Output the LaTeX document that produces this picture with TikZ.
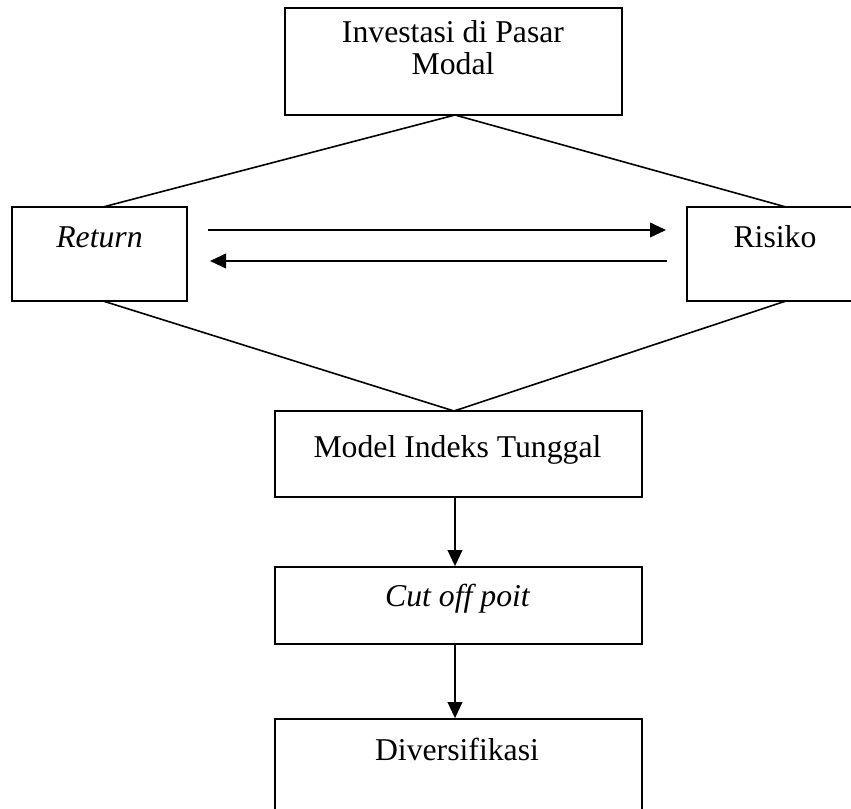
\documentclass[tikz,border=0pt]{standalone}
\usepackage{fontspec}
\setmainfont{Liberation Serif}
\usetikzlibrary{arrows.meta}
\begin{document}
\begin{tikzpicture}[x=0.75pt,y=-0.75pt,
  box/.style={draw=black, line width=1.3pt, inner sep=0pt, fill=none},
  txt/.style={inner sep=0pt, anchor=base, font=\fontsize{23.8}{24}\selectfont},
  ln/.style={line width=1.2pt},
  arr/.style={line width=1.3pt, -{Triangle[length=12pt,width=11pt]}}]
\clip (0,0) rectangle (851,809);
\fill[white] (0,0) rectangle (851,809);
% boxes
\node[box, minimum width=252.75pt, minimum height=80.25pt] (top) at (453.5,61.5) {};
\node[box, minimum width=131.25pt, minimum height=70.5pt] (ret) at (99.5,254) {};
\node[box, minimum width=137.25pt, minimum height=70.5pt] (ris) at (778.5,254) {};
\node[box, minimum width=275.25pt, minimum height=64.5pt] (mod) at (458.5,454) {};
\node[box, minimum width=275.25pt, minimum height=57.75pt] (cut) at (458.5,605.5) {};
\node[box, minimum width=275.25pt, minimum height=90pt] (div) at (458.5,779) {};
% texts
\node[txt] (t1) at (453,43) {Investasi di Pasar};
\node[txt] (t2) at (453,75) {Modal};
\node[txt] (t3) at (99.5,248) {\itshape Return};
\node[txt] (t4) at (775,248) {Risiko};
\node[txt] (t5) at (457.5,458) {Model Indeks Tunggal};
\node[txt] (t6) at (457.5,607) {\itshape Cut off poit};
\node[txt] (t7) at (457,760) {Diversifikasi};
% connector end points
\coordinate (ta) at (455,115);
\coordinate (rt) at (103,207);
\coordinate (rb) at (103,301);
\coordinate (st) at (786,207);
\coordinate (sb) at (786,301);
\coordinate (mt) at (454,411);
\coordinate (a1s) at (208,230);
\coordinate (a1e) at (666,230);
\coordinate (a2s) at (667,261);
\coordinate (a2e) at (210,261);
\draw[ln] (rt) -- (ta) -- (st);
\draw[ln] (rb) -- (mt) -- (sb);
\draw[arr] (a1s) -- (a1e);
\draw[arr] (a2s) -- (a2e);
\draw[arr] (mod.south -| ta) -- (cut.north -| ta);
\draw[arr] (cut.south -| ta) -- (div.north -| ta);
\end{tikzpicture}
\end{document}
